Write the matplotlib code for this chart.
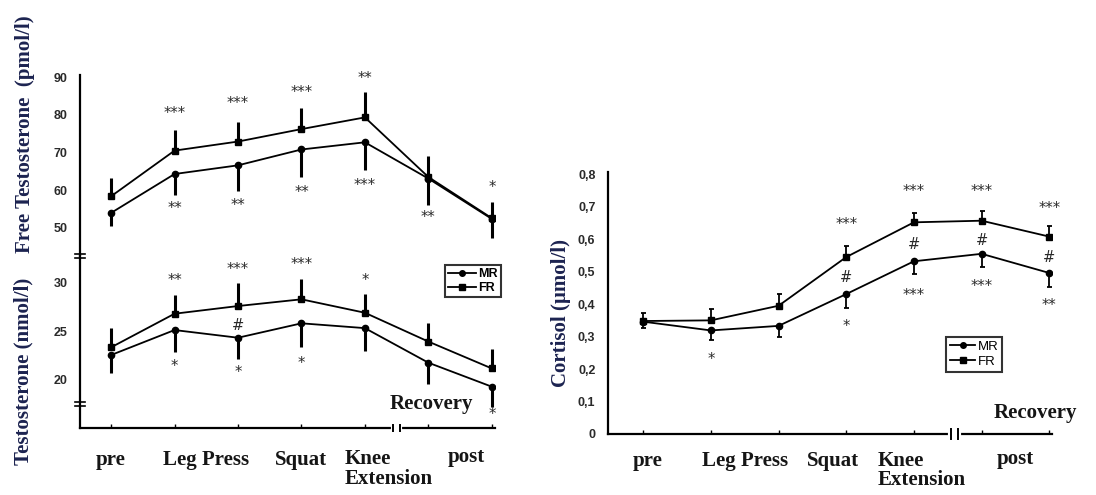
import numpy as np
import matplotlib
matplotlib.use("Agg")
import matplotlib.pyplot as plt
from matplotlib.lines import Line2D

# time points: pre, leg press (2 sets), squat, knee extension, post (recovery)
x = np.arange(7)

# free testosterone (pmol/l)
ft_fr = [58.4, 70.5, 72.9, 76.2, 79.3, 63.5, 52.6]
ft_fr_err = [4.8, 5.4, 5.3, 5.7, 6.6, 5.5, 4.4]
ft_mr = [54.0, 64.3, 66.6, 70.8, 72.7, 63.1, 52.4]
ft_mr_err = [3.5, 5.5, 6.7, 7.2, 7.3, 6.9, 5.1]

# total testosterone (nmol/l)
t_fr = [23.3, 26.8, 27.6, 28.3, 26.9, 23.9, 21.1]
t_fr_err = [2.0, 2.0, 2.4, 2.1, 2.0, 1.9, 2.0]
t_mr = [22.5, 25.1, 24.3, 25.8, 25.3, 21.7, 19.2]
t_mr_err = [1.9, 2.3, 2.2, 2.5, 2.4, 2.2, 2.1]

# cortisol (umol/l)
c_fr = [0.348, 0.350, 0.395, 0.545, 0.652, 0.657, 0.608]
c_fr_err = [0.025, 0.034, 0.036, 0.033, 0.030, 0.031, 0.033]
c_mr = [0.346, 0.319, 0.333, 0.431, 0.532, 0.555, 0.496]
c_mr_err = [0.020, 0.031, 0.033, 0.042, 0.038, 0.040, 0.042]

# significance marks: (x index, y value, text)
ft_marks = [(1, 80.3, "***"), (2, 82.9, "***"), (3, 85.8, "***"), (4, 89.6, "**"),
            (6, 60.7, "*"), (1, 55.1, "**"), (2, 56.0, "**"), (3, 59.3, "**"),
            (4, 61.2, "***"), (5, 52.9, "**")]
t_marks = [(1, 30.3, "**"), (2, 31.4, "***"), (3, 31.9, "***"), (4, 30.3, "*"),
           (2, 25.6, "#"), (1, 21.3, "*"), (2, 20.7, "*"), (3, 21.6, "*"),
           (6, 16.3, "*")]
c_marks = [(3, 0.644, "***"), (4, 0.748, "***"), (5, 0.748, "***"), (6, 0.696, "***"),
           (3, 0.483, "#"), (4, 0.584, "#"), (5, 0.597, "#"), (6, 0.545, "#"),
           (1, 0.231, "*"), (3, 0.331, "*"), (4, 0.426, "***"), (5, 0.454, "***"),
           (6, 0.395, "**")]

stage_labels = ["pre", "Leg Press", "Squat", "Knee\nExtension", "post"]
c_ticks = [0, 0.1, 0.2, 0.3, 0.4, 0.5, 0.6, 0.7, 0.8]
c_ticklabels = ["0", "0,1", "0,2", "0,3", "0,4", "0,5", "0,6", "0,7", "0,8"]

W, H = 1096, 495
SERIF = "Liberation Serif"
SANS = "Liberation Sans"
LAB_COL = "#1c2350"
TXT_COL = "#2a2a2a"
FS = 15


def frac(x0, y0, x1, y1):
    return [x0 / W, 1 - y1 / H, (x1 - x0) / W, (y1 - y0) / H]


def draw_series(ax, fr, fr_err, mr, mr_err, elw, cap):
    z = np.zeros(len(x))
    ax.errorbar(x, fr, yerr=[z, fr_err], fmt="none", ecolor="k", elinewidth=elw,
                capsize=cap, capthick=elw)
    ax.errorbar(x, mr, yerr=[mr_err, z], fmt="none", ecolor="k", elinewidth=elw,
                capsize=cap, capthick=elw)
    ax.plot(x, mr, "-o", color="k", lw=1.3, ms=4.5)
    ax.plot(x, fr, "-s", color="k", lw=1.3, ms=4.5)


def draw_marks(ax, marks):
    for xi, yv, s in marks:
        ax.text(xi, yv, s, ha="center", va="center", fontsize=10.5, color=TXT_COL,
                family="DejaVu Sans")


def style_y(ax):
    ax.tick_params(axis="y", length=0, pad=9, labelsize=9, labelcolor=TXT_COL)
    for lab in ax.get_yticklabels():
        lab.set_fontweight("bold")
        lab.set_family(SANS)
    ax.spines["left"].set_linewidth(1.6)
    ax.spines["top"].set_visible(False)
    ax.spines["right"].set_visible(False)


def hbreak(ax, yax):
    # small "=" break mark on y spine
    for dy in (-0.012, 0.012):
        ax.plot([-0.012, 0.012], [yax + dy, yax + dy], transform=ax.transAxes,
                color="k", lw=1.2, clip_on=False)


def xbreak(ax, xv):
    tr = ax.get_xaxis_transform()
    ax.plot([xv - 0.06, xv + 0.06], [0, 0], transform=tr, color="white", lw=3,
            clip_on=False, zorder=5)
    for dx in (-0.05, 0.05):
        ax.plot([xv + dx, xv + dx], [-0.02, 0.02], transform=tr, color="k",
                lw=1.4, clip_on=False, zorder=6)


def stage_text(ax, items):
    tr = ax.get_xaxis_transform()
    for (xv, yax, ha), s in zip(items, stage_labels):
        ax.text(xv, yax, s, transform=tr, ha=ha, va="top", fontsize=FS,
                family=SERIF, fontweight="bold", color="#151515",
                linespacing=0.95)


def ylab(xp, yp, s):
    fig.text(xp / W, 1 - yp / H, s, rotation=90, ha="center", va="center",
             family=SERIF, fontweight="bold", fontsize=FS, color=LAB_COL)


fig = plt.figure(figsize=(W / 100, H / 100), dpi=100)

# ---- left: free testosterone (top) + testosterone (bottom)
ax_ft = fig.add_axes(frac(80, 75, 495, 256))
ax_t = fig.add_axes(frac(80, 256, 495, 428), sharex=ax_ft)

draw_series(ax_ft, ft_fr, ft_fr_err, ft_mr, ft_mr_err, 2.2, 0)
draw_series(ax_t, t_fr, t_fr_err, t_mr, t_mr_err, 2.2, 0)
draw_marks(ax_ft, ft_marks)
draw_marks(ax_t, t_marks)

ax_ft.set_xlim(-0.49, 6.05)
ax_ft.set_ylim(42.58, 90.53)
ax_ft.set_yticks([50, 60, 70, 80, 90])
ax_t.set_ylim(14.9, 32.81)
ax_t.set_yticks([20, 25, 30])
for a in (ax_ft, ax_t):
    style_y(a)
ax_ft.spines["bottom"].set_visible(False)
ax_ft.tick_params(axis="x", which="both", length=0, labelbottom=False)
ax_t.spines["bottom"].set_linewidth(1.6)
ax_t.set_xticks(x)
ax_t.tick_params(axis="x", direction="in", length=3, width=1, labelbottom=False)
hbreak(ax_t, 1.0)
hbreak(ax_t, 0.14)
xbreak(ax_t, 4.5)

ylab(25, 134, "Free Testosterone  (pmol/l)")
ylab(23, 371, "Testosterone (nmol/l)")

ax_t.text(5.05, 17.4, "Recovery", ha="center", va="center", fontsize=FS,
          family=SERIF, fontweight="bold", color="#151515")
stage_text(ax_t, [(0, -0.125, "center"), (1.5, -0.125, "center"), (3.0, -0.125, "center"),
                  (3.68, -0.125, "left"), (5.59, -0.11, "center")])

handles = [Line2D([], [], color="k", marker="o", ms=4, lw=1.3),
           Line2D([], [], color="k", marker="s", ms=4, lw=1.3)]
leg = fig.legend(handles, ["MR", "FR"], loc="upper right",
                 bbox_to_anchor=(507 / W, 1 - 259 / H), frameon=True,
                 fancybox=False, edgecolor="k", handlelength=2.2,
                 handletextpad=0.2, borderpad=0.25, labelspacing=0.15,
                 prop={"family": SANS, "weight": "bold", "size": 9})
leg.get_frame().set_linewidth(1.5)

# ---- right: cortisol
ax_c = fig.add_axes(frac(608, 172, 1052, 434))
draw_series(ax_c, c_fr, c_fr_err, c_mr, c_mr_err, 1.3, 1.8)
draw_marks(ax_c, c_marks)
ax_c.set_xlim(-0.52, 6.04)
ax_c.set_ylim(0, 0.807)
ax_c.set_yticks(c_ticks)
ax_c.set_yticklabels(c_ticklabels)
style_y(ax_c)
ax_c.spines["bottom"].set_linewidth(1.6)
ax_c.set_xticks(x)
ax_c.tick_params(axis="x", direction="in", length=3, width=1, labelbottom=False)
xbreak(ax_c, 4.6)
ylab(561, 313, "Cortisol (\u00b5mol/l)")
ax_c.text(5.79, 0.065, "Recovery", ha="center", va="center", fontsize=FS,
          family=SERIF, fontweight="bold", color="#151515")
stage_text(ax_c, [(0.07, -0.065, "center"), (1.5, -0.065, "center"), (2.8, -0.065, "center"),
                  (3.46, -0.065, "left"), (5.5, -0.058, "center")])

leg2 = fig.legend(handles, ["MR", "FR"], loc="upper right",
                  bbox_to_anchor=(1009 / W, 1 - 330 / H), frameon=True,
                  fancybox=False, edgecolor="k", handlelength=1.9,
                  handletextpad=0.2, borderpad=0.3, labelspacing=0.2,
                  prop={"family": SANS, "size": 9.5})
leg2.get_frame().set_linewidth(1.5)

fig.savefig("out.png", dpi=100, facecolor="white")
